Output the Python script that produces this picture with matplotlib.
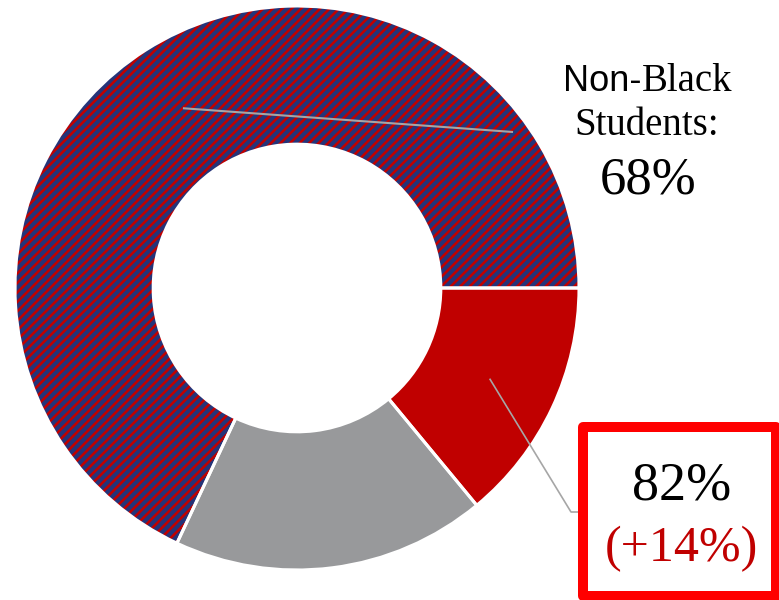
import numpy as np
import matplotlib
matplotlib.use("Agg")
import matplotlib.pyplot as plt
from matplotlib.patches import Rectangle
from matplotlib.collections import PolyCollection

# ── Data ──────────────────────────────────────────────────────────────────────
groups  = ["Black (added)", "Black", "Non-Black Students"]
shares  = [14, 18, 68]            # percent of students
COLORS  = ["#C00000", "#98999B", "#253479"]
C_RED   = "#C00000"
C_BOX   = "#FF0000"
C_LEAD  = "#A6A6A6"

label_nonblack = "68%"
label_black    = "82%"
label_delta    = "(+14%)"

# ── Layout (pixel based, 779 x 600) ───────────────────────────────────────────
W, H   = 779, 600
CX, CY = 297, 288                 # donut centre in pixels (from top-left)
UNIT   = 282                      # pixels per data unit (outer radius)
RING   = 0.49
STRIPE_GAP = 9.5 / UNIT           # stripe period (measured along x)
STRIPE_W   = 3.6 / UNIT           # red band thickness (measured along y)

SERIF = "Liberation Serif"
SANS  = "Liberation Sans"

fig = plt.figure(figsize=(W / 100, H / 100), dpi=100)
ax = fig.add_axes([0, 0, 1, 1])

def px(x, y):
    """pixel (from top-left) -> figure fraction"""
    return x / W, 1 - y / H

# faces
wedges, _ = ax.pie(shares, colors=COLORS, startangle=0, counterclock=False,
                   radius=1, wedgeprops=dict(width=RING, linewidth=0))

# red diagonal bands over the navy wedge
offsets = np.arange(-2.5, 2.5, STRIPE_GAP)
bands = [[(-1.2, -1.2 + c), (1.2, 1.2 + c),
          (1.2, 1.2 + c + STRIPE_W), (-1.2, -1.2 + c + STRIPE_W)] for c in offsets]
stripes = PolyCollection(bands, facecolors=C_RED, edgecolors="none",
                         linewidths=0, zorder=1.5)
ax.add_collection(stripes)
stripes.set_clip_path(wedges[2])

# white separators between slices
ax.pie(shares, colors=["none"] * len(shares), startangle=0, counterclock=False,
       radius=1, wedgeprops=dict(width=RING, edgecolor="white", linewidth=2.2,
                                 fill=False, zorder=2))

ax.set_aspect("auto")
ax.set_xlim(-CX / UNIT, (W - CX) / UNIT)
ax.set_ylim(-(H - CY) / UNIT, CY / UNIT)
ax.axis("off")

# leader lines start at each wedge's mid-angle, mid-ring
r_mid = 1 - RING / 2
def mid_point(w):
    ang = np.deg2rad((w.theta1 + w.theta2) / 2)
    return r_mid * np.cos(ang), r_mid * np.sin(ang)

def to_data(x, y):
    return (x - CX) / UNIT, (CY - y) / UNIT

sx, sy = mid_point(wedges[2])
ex, ey = to_data(513, 132)
ax.plot([sx, ex], [sy, ey], color=C_LEAD, lw=1.5, solid_capstyle="butt", zorder=3)

sx, sy = mid_point(wedges[0])
kx, ky = to_data(571, 512)
ex, ey = to_data(579, 512)
ax.plot([sx, kx, ex], [sy, ky, ey], color=C_LEAD, lw=1.2, solid_capstyle="butt", zorder=3)

# ── Labels ────────────────────────────────────────────────────────────────────
fig.text(*px(642, 91), "Non-", family=SANS, fontsize=26, ha="right", va="baseline")
fig.text(*px(642, 91), "Black", family=SERIF, fontsize=28, ha="left", va="baseline")
fig.text(*px(647, 135), "Students:", family=SERIF, fontsize=28, ha="center", va="baseline")
fig.text(*px(648, 193), label_nonblack, family=SERIF, fontsize=38, ha="center", va="baseline")

# callout box for the Black share
box = Rectangle(px(583, 596), 193 / W, 169 / H, transform=fig.transFigure,
                facecolor="white", edgecolor=C_BOX, linewidth=7.2,
                joinstyle="round", clip_on=False)
fig.patches.append(box)
fig.text(*px(682, 500), label_black, family=SERIF, fontsize=39, ha="center", va="baseline")
fig.text(*px(681, 561), label_delta, family=SERIF, fontsize=36, color=C_RED,
         ha="center", va="baseline")

fig.savefig("out.png", dpi=100)
